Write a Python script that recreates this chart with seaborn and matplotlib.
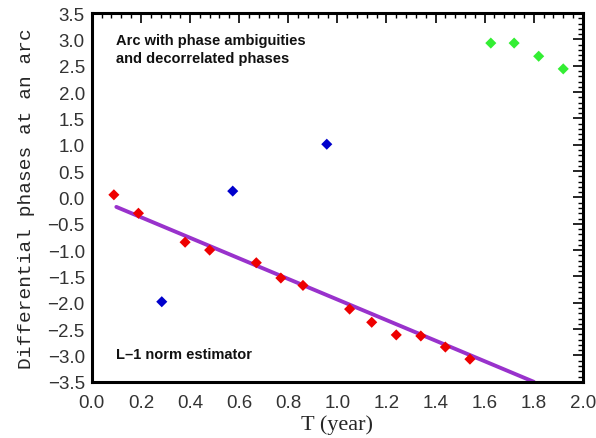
import numpy as np
import pandas as pd
import matplotlib
matplotlib.use("Agg")
import matplotlib.pyplot as plt
from matplotlib.ticker import MultipleLocator, FuncFormatter
import seaborn as sns

# red: phases kept by the estimator
red_t = [0.09, 0.19, 0.38, 0.48, 0.67, 0.77, 0.86, 1.05, 1.14, 1.24, 1.34, 1.44, 1.54]
red_phase = [0.05, -0.30, -0.85, -1.00, -1.24, -1.53, -1.67, -2.12, -2.37, -2.61, -2.63, -2.84, -3.07]
# blue: ambiguous phases
blue_t = [0.285, 0.574, 0.957]
blue_phase = [-1.98, 0.12, 1.01]
# green: decorrelated phases
green_t = [1.625, 1.72, 1.82, 1.92]
green_phase = [2.93, 2.93, 2.68, 2.44]
# L-1 norm fitted line (end points)
fit_t = [0.10, 1.80]
fit_phase = [-0.18, -3.50]

df = pd.DataFrame({
    "t": red_t + blue_t + green_t,
    "phase": red_phase + blue_phase + green_phase,
    "group": ["red"] * len(red_t) + ["blue"] * len(blue_t) + ["green"] * len(green_t),
})
fit = pd.DataFrame({"t": fit_t, "phase": fit_phase})

sns.set_style("white")
plt.rcParams["font.family"] = ["Liberation Sans", "DejaVu Sans"]

fig = plt.figure(figsize=(5.96, 4.39), dpi=100)
ax = fig.add_axes([0.154, 0.128, 0.824, 0.840])

sns.lineplot(data=fit, x="t", y="phase", color="#9932cc", linewidth=2.8, ax=ax, zorder=2)
sns.scatterplot(data=df, x="t", y="phase", hue="group",
                palette={"red": "#ee0000", "blue": "#0000cc", "green": "#33ee33"},
                marker="D", s=32, edgecolor="none", legend=False, ax=ax, zorder=3)

fmt = FuncFormatter(lambda v, p: f"{v:.1f}".replace("-", "\u2212"))
ax.set_xlim(0.0, 2.0)
ax.set_ylim(-3.5, 3.5)
ax.xaxis.set_major_locator(MultipleLocator(0.2))
ax.xaxis.set_minor_locator(MultipleLocator(0.04))
ax.yaxis.set_major_locator(MultipleLocator(0.5))
ax.yaxis.set_minor_locator(MultipleLocator(0.1))
ax.xaxis.set_major_formatter(fmt)
ax.yaxis.set_major_formatter(fmt)
ax.tick_params(which="both", direction="in", top=True, right=True, color="black")
ax.tick_params(which="major", length=7, width=1.2, labelsize=13.5, labelcolor="#333333", pad=5)
ax.tick_params(axis="x", which="major", pad=9)
ax.tick_params(which="minor", length=3.5, width=1.0)
for sp in ax.spines.values():
    sp.set_linewidth(2.2)
    sp.set_color("black")

ax.set_xlabel("T (year)", fontsize=16, family=["Liberation Serif"], labelpad=2)
ax.set_ylabel("Differential phases at an arc", fontsize=14, family=["Liberation Mono"], labelpad=9)

ax.text(0.05, 0.945, "Arc with phase ambiguities\nand decorrelated phases",
        transform=ax.transAxes, fontsize=10.5, fontweight="bold", va="top", ha="left",
        linespacing=1.3, color="#111111")
ax.text(0.05, 0.075, "L\u20131 norm estimator", transform=ax.transAxes,
        fontsize=10.5, fontweight="bold", va="center", ha="left", color="#111111")

fig.savefig("out.png", dpi=100)
